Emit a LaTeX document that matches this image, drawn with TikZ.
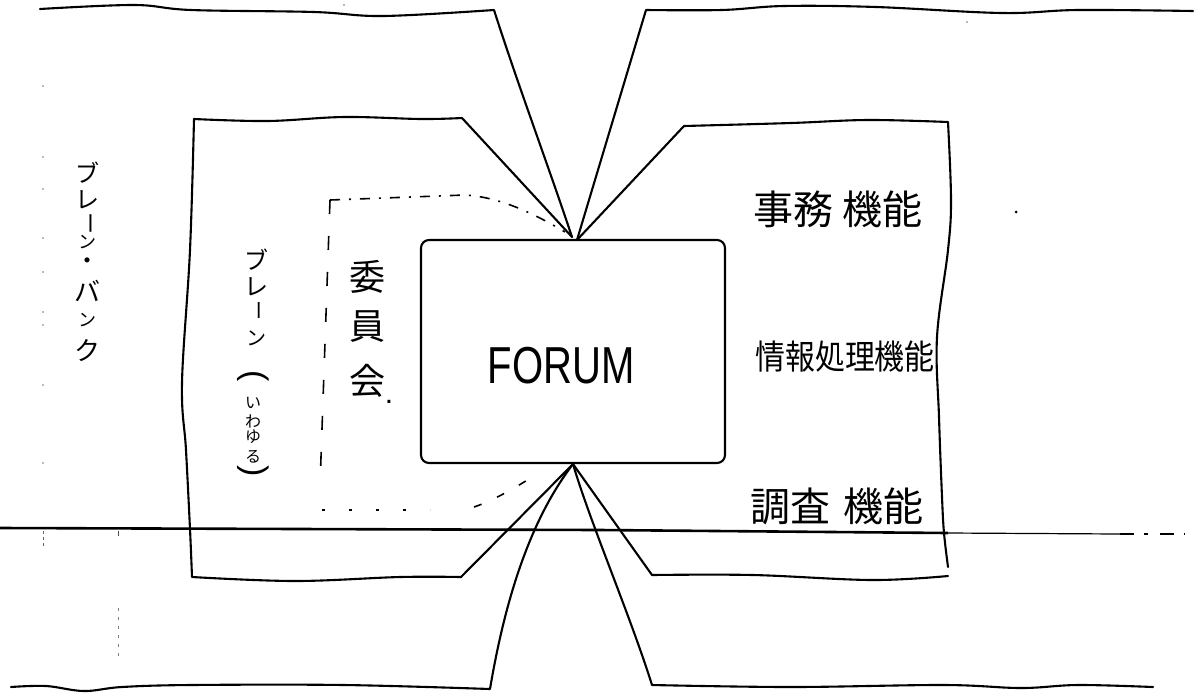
\documentclass[tikz,border=0pt]{standalone}
\usepackage{fontspec}
\usepackage{graphicx}
\newfontfamily\jpfont{Noto Sans CJK JP}
\newfontfamily\latfont{Liberation Sans}
\newcommand\jpfs[1]{\jpfont\fontsize{#1}{#1}\selectfont}
\newcommand\latfs[1]{\latfont\fontsize{#1}{#1}\selectfont}
\newcommand\vbar{\rotatebox[origin=c]{-90}{ー}}
\usetikzlibrary{calc}
\begin{document}
\begin{tikzpicture}[x=1pt,y=-1pt,
  hand/.style={line width=2.1pt,line join=round,line cap=round},
  vt/.style={inner sep=0pt},
  lbl/.style={inner sep=0pt},
  cmttop/.style={line width=1.6pt,dash pattern=on 10pt off 9pt on 2pt off 9pt},
  cmtleft/.style={line width=1.6pt,dash pattern=on 14pt off 22pt},
  cmtbot/.style={line width=1.6pt,dash pattern=on 3pt off 24pt},
  cmtcurve/.style={line width=1.6pt,dash pattern=on 8pt off 17pt},
  speck/.style={fill=black!55}]
\useasboundingbox (0,0) rectangle (1201,697);

% FORUM box
\node[draw,hand,rounded corners=8pt,minimum width=304pt,minimum height=223pt,inner sep=0pt] (forum) at (573,351.5) {};
\node[lbl] (forumlabel) at (561,366) {\latfs{52}\scalebox{0.77}[1]{FORUM}};

\coordinate (tTL) at ([xshift=-1pt,yshift=2pt]forum.north);
\coordinate (tTR) at ([xshift=4pt,yshift=-1pt]forum.north);
\coordinate (tB) at (forum.south);

% outer left shape (brain bank)
\draw[hand] plot[smooth,tension=0.6] coordinates {(40,9) (134,5) (191,10) (314,12) (383,16) (494,10)}
  .. controls (518,85) and (548,165) .. (tTL);
\draw[hand] (tB) .. controls (530,520) and (505,600) .. (490,689)
  -- plot[smooth,tension=0.6] coordinates {(490,689) (344,685) (191,685) (122,687) (84,691) (46,686) (11,687)};

% inner left box (brain)
\draw[hand] (tTL) -- (462,118)
  -- plot[smooth,tension=0.6] coordinates {(462,118) (421,119) (344,117) (268,121) (194,119)}
  -- plot[smooth,tension=0.6] coordinates {(194,119) (190,250) (182,383) (186,450) (190,529) (192,577)}
  -- plot[smooth,tension=0.6] coordinates {(192,577) (295,581) (400,577) (461,577)}
  -- (tB);

% inner right box (functions)
\draw[hand] (tTR) -- (684,126)
  -- plot[smooth,tension=0.6] coordinates {(684,126) (791,123) (868,120) (948,122)}
  -- plot[smooth,tension=0.6] coordinates {(948,122) (951,200) (948,250) (937,337) (939,417) (942,497) (944,533) (948,567)};
\draw[hand] (tB) -- (652,575)
  -- plot[smooth,tension=0.6] coordinates {(652,575) (753,575) (872,580) (948,576)};

% outer right shape
\draw[hand] (tTR) -- (646,10)
  -- plot[smooth,tension=0.6] coordinates {(646,10) (722,10) (784,6) (876,7) (1002,13) (1078,10) (1193,11)};
\draw[hand] (tB) .. controls (590,522) and (630,615) .. (652,685)
  -- plot[smooth,tension=0.6] coordinates {(652,685) (791,687) (944,685) (1021,688) (1078,685) (1153,687)};

% committee (dashed)
\draw[cmttop] (330,200) -- (465,195) .. controls (500,197) and (535,214) .. (565,232);
\draw[cmtleft] (330,200) -- (320,486);
\draw[cmtbot] (322,510) -- (430,510);
\draw[cmtcurve] (474,507) .. controls (495,500) and (520,485) .. (540,472);

% horizontal line
\draw[line width=2.6pt] (0,528) -- (600,530) -- (948,533);
\draw[line width=1.2pt] (948,533) -- (1120,534);
\draw[line width=1.2pt,dash pattern=on 14pt off 10pt on 4pt off 12pt] (1120,534) -- (1185,534);

% faint ruler marks and specks
\foreach \yy in {86,157,189,238,272,312,325,385,463}
  \fill[speck] (43,\yy) circle (0.9pt);
\draw[black!60,line width=0.8pt,dash pattern=on 3pt off 3pt] (43,531) -- (43,548);
\draw[black!70,line width=1pt] (118,531) -- (118,536);
\draw[black!50,line width=0.8pt,dash pattern=on 3pt off 6pt] (118,608) -- (118,662);
\fill[black] (1016,212) circle (1.5pt);
\fill[speck] (967,22) circle (0.8pt);
\fill[speck] (344,5) circle (0.8pt);

% vertical texts
\foreach \ch/\fs/\yy [count=\i] in {ブ/24/173,レ/24/200,\vbar/22/223,ン/18/242,・/24/264,バ/26/291,ン/18/320,ク/26/351}
  \node[vt,font={\jpfs{\fs}}] (bank\i) at (87,\yy) {\ch};
\foreach \ch/\fs/\yy [count=\i] in {ブ/24/260,レ/24/287,\vbar/20/310,ン/20/338}
  \node[vt,font={\jpfs{\fs}}] (brain\i) at (256,\yy) {\ch};
\node[vt,font={\latfs{34}}] (parA) at (253,378) {\rotatebox[origin=c]{-90}{(}};
\foreach \ch/\yy [count=\i] in {い/403,わ/421,ゆ/437,る/457}
  \node[vt,font={\jpfs{16}}] (iwayuru\i) at (253,\yy) {\ch};
\node[vt,font={\latfs{34}}] (parB) at (253,473) {\rotatebox[origin=c]{-90}{)}};
\foreach \ch/\yy [count=\i] in {委/277,員/327,会/381}
  \node[vt,font={\jpfs{36}}] (iin\i) at (367,\yy) {\ch};
\node[vt,font={\latfs{30}}] (iindot) at (389,402) {.};

% horizontal labels
\node[lbl,font={\jpfs{40}}] (jimu) at (838,209) {事務\hspace{9pt}機能};
\node[lbl,font={\jpfs{34}}] (joho) at (845,357) {\scalebox{0.88}[1]{情報処理機能}};
\node[lbl,font={\jpfs{40}}] (chosa) at (837,506) {調査\hspace{13pt}機能};
\end{tikzpicture}
\end{document}
